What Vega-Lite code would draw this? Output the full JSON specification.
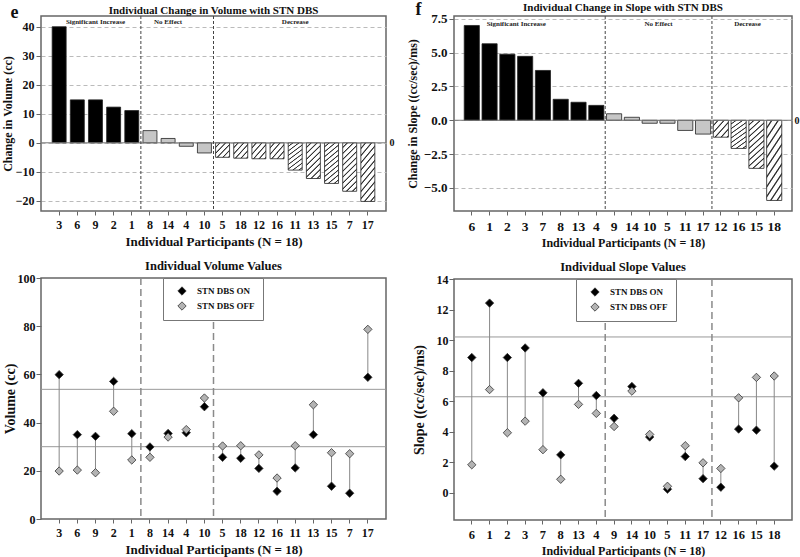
{
  "$schema": "https://vega.github.io/schema/vega-lite/v6.json",
  "padding": {"left": 0, "top": 0, "right": 0, "bottom": 0},
  "datasets": {
    "volChange": [
      {"p": "3", "v": 40.0, "g": "Significant Increase"},
      {"p": "6", "v": 14.8, "g": "Significant Increase"},
      {"p": "9", "v": 14.8, "g": "Significant Increase"},
      {"p": "2", "v": 12.3, "g": "Significant Increase"},
      {"p": "1", "v": 11.1, "g": "Significant Increase"},
      {"p": "8", "v": 4.2, "g": "No Effect"},
      {"p": "14", "v": 1.5, "g": "No Effect"},
      {"p": "4", "v": -1.2, "g": "No Effect"},
      {"p": "10", "v": -3.5, "g": "No Effect"},
      {"p": "5", "v": -5.0, "g": "Decrease"},
      {"p": "18", "v": -5.3, "g": "Decrease"},
      {"p": "12", "v": -5.5, "g": "Decrease"},
      {"p": "16", "v": -5.5, "g": "Decrease"},
      {"p": "11", "v": -9.4, "g": "Decrease"},
      {"p": "13", "v": -12.3, "g": "Decrease"},
      {"p": "15", "v": -14.0, "g": "Decrease"},
      {"p": "7", "v": -16.7, "g": "Decrease"},
      {"p": "17", "v": -20.2, "g": "Decrease"}
    ],
    "slopeChange": [
      {"p": "6", "v": 7.0, "g": "Significant Increase"},
      {"p": "1", "v": 5.65, "g": "Significant Increase"},
      {"p": "2", "v": 4.88, "g": "Significant Increase"},
      {"p": "3", "v": 4.72, "g": "Significant Increase"},
      {"p": "7", "v": 3.68, "g": "Significant Increase"},
      {"p": "8", "v": 1.55, "g": "Significant Increase"},
      {"p": "13", "v": 1.33, "g": "Significant Increase"},
      {"p": "4", "v": 1.1, "g": "Significant Increase"},
      {"p": "9", "v": 0.48, "g": "No Effect"},
      {"p": "14", "v": 0.22, "g": "No Effect"},
      {"p": "10", "v": -0.22, "g": "No Effect"},
      {"p": "5", "v": -0.22, "g": "No Effect"},
      {"p": "11", "v": -0.75, "g": "No Effect"},
      {"p": "17", "v": -1.02, "g": "No Effect"},
      {"p": "12", "v": -1.25, "g": "Decrease"},
      {"p": "16", "v": -2.08, "g": "Decrease"},
      {"p": "15", "v": -3.55, "g": "Decrease"},
      {"p": "18", "v": -5.92, "g": "Decrease"}
    ],
    "vol": [
      {"p": "3", "STN DBS ON": 59.9, "STN DBS OFF": 19.9},
      {"p": "6", "STN DBS ON": 35.0, "STN DBS OFF": 20.3},
      {"p": "9", "STN DBS ON": 34.3, "STN DBS OFF": 19.2},
      {"p": "2", "STN DBS ON": 57.1, "STN DBS OFF": 44.7},
      {"p": "1", "STN DBS ON": 35.4, "STN DBS OFF": 24.5},
      {"p": "8", "STN DBS ON": 29.9, "STN DBS OFF": 25.6},
      {"p": "14", "STN DBS ON": 35.5, "STN DBS OFF": 34.0},
      {"p": "4", "STN DBS ON": 35.8, "STN DBS OFF": 37.1},
      {"p": "10", "STN DBS ON": 46.6, "STN DBS OFF": 50.2},
      {"p": "5", "STN DBS ON": 25.6, "STN DBS OFF": 30.3},
      {"p": "18", "STN DBS ON": 25.2, "STN DBS OFF": 30.4},
      {"p": "12", "STN DBS ON": 21.0, "STN DBS OFF": 26.6},
      {"p": "16", "STN DBS ON": 11.5, "STN DBS OFF": 17.0},
      {"p": "11", "STN DBS ON": 21.2, "STN DBS OFF": 30.4},
      {"p": "13", "STN DBS ON": 35.0, "STN DBS OFF": 47.4},
      {"p": "15", "STN DBS ON": 13.6, "STN DBS OFF": 27.5},
      {"p": "7", "STN DBS ON": 10.7, "STN DBS OFF": 27.1},
      {"p": "17", "STN DBS ON": 58.8, "STN DBS OFF": 78.7}
    ],
    "slope": [
      {"p": "6", "STN DBS ON": 8.85, "STN DBS OFF": 1.82},
      {"p": "1", "STN DBS ON": 12.42, "STN DBS OFF": 6.75},
      {"p": "2", "STN DBS ON": 8.85, "STN DBS OFF": 3.92},
      {"p": "3", "STN DBS ON": 9.48, "STN DBS OFF": 4.68},
      {"p": "7", "STN DBS ON": 6.54, "STN DBS OFF": 2.81},
      {"p": "8", "STN DBS ON": 2.47, "STN DBS OFF": 0.87},
      {"p": "13", "STN DBS ON": 7.16, "STN DBS OFF": 5.78},
      {"p": "4", "STN DBS ON": 6.36, "STN DBS OFF": 5.19},
      {"p": "9", "STN DBS ON": 4.87, "STN DBS OFF": 4.33},
      {"p": "14", "STN DBS ON": 6.95, "STN DBS OFF": 6.65},
      {"p": "10", "STN DBS ON": 3.64, "STN DBS OFF": 3.81},
      {"p": "5", "STN DBS ON": 0.22, "STN DBS OFF": 0.41},
      {"p": "11", "STN DBS ON": 2.36, "STN DBS OFF": 3.07},
      {"p": "17", "STN DBS ON": 0.91, "STN DBS OFF": 1.95},
      {"p": "12", "STN DBS ON": 0.35, "STN DBS OFF": 1.58},
      {"p": "16", "STN DBS ON": 4.16, "STN DBS OFF": 6.21},
      {"p": "15", "STN DBS ON": 4.09, "STN DBS OFF": 7.55},
      {"p": "18", "STN DBS ON": 1.73, "STN DBS OFF": 7.64}
    ]
  },
  "spacing": 10,
  "resolve": {"scale": {"fill": "independent"}, "legend": {"fill": "independent"}},
  "hconcat": [
    {
      "title": {"text": "e", "anchor": "start", "fontSize": 18, "offset": -18, "dx": 10},
      "spacing": 9,
      "resolve": {"scale": {"fill": "independent"}, "legend": {"fill": "independent"}},
      "vconcat": [
        {
          "width": 345,
          "height": 195,
          "title": {"text": "Individual Change in Volume with STN DBS", "fontSize": 11, "offset": 0},
          "resolve": {"axis": {"y": "independent"}},
          "layer": [
            {
              "data": {"name": "volChange"},
              "transform": [{"filter": "datum.g !== 'Decrease'"}],
              "mark": {"type": "bar", "width": {"band": 0.77}, "stroke": "#222", "strokeWidth": 0.8},
              "encoding": {
                "x": {"field": "p", "type": "nominal", "scale": {"domain": ["3","6","9","2","1","8","14","4","10","5","18","12","16","11","13","15","7","17"], "paddingInner": 0, "paddingOuter": 0.5},
                  "axis": {"title": "Individual Participants (N = 18)", "labelAngle": 0, "labelFontSize": 12, "titleFontSize": 13, "tickSize": 4, "labelPadding": 4, "titlePadding": 5}},
                "y": {"field": "v", "type": "quantitative", "scale": {"domain": [-23.5, 43.7], "nice": false, "zero": false},
                  "axis": {"title": "Change in Volume (cc)", "values": [-20,-10,0,10,20,30,40], "grid": true, "gridDash": [4,3], "gridColor": "#bbb", "labelFontSize": 12, "titleFontSize": 12, "titlePadding": 1}},
                "fill": {"condition": {"test": "datum.g === 'Significant Increase'", "value": "#000"}, "value": "#c6c6c6"}
              }
            },
            {
              "data": {"name": "volChange"},
              "transform": [{"filter": "datum.g === 'Decrease' && datum.v > -8"}],
              "mark": {"type": "bar", "width": {"band": 0.77}, "stroke": "#222", "strokeWidth": 0.8,
                "fill": {"gradient": "linear", "x1": 0, "y1": 0, "x2": 1, "y2": 1, "stops": [
                  {"offset": 0, "color": "#fff"}, {"offset": 0.12, "color": "#fff"}, {"offset": 0.15, "color": "#333"}, {"offset": 0.17, "color": "#333"},
                  {"offset": 0.2, "color": "#fff"}, {"offset": 0.32, "color": "#fff"}, {"offset": 0.35, "color": "#333"}, {"offset": 0.37, "color": "#333"},
                  {"offset": 0.4, "color": "#fff"}, {"offset": 0.52, "color": "#fff"}, {"offset": 0.55, "color": "#333"}, {"offset": 0.57, "color": "#333"},
                  {"offset": 0.6, "color": "#fff"}, {"offset": 0.72, "color": "#fff"}, {"offset": 0.75, "color": "#333"}, {"offset": 0.77, "color": "#333"},
                  {"offset": 0.8, "color": "#fff"}, {"offset": 0.92, "color": "#fff"}, {"offset": 0.95, "color": "#333"}, {"offset": 0.97, "color": "#333"},
                  {"offset": 1, "color": "#fff"}]}},
              "encoding": {
                "x": {"field": "p", "type": "nominal", "scale": {"domain": ["3","6","9","2","1","8","14","4","10","5","18","12","16","11","13","15","7","17"], "paddingInner": 0, "paddingOuter": 0.5}},
                "y": {"field": "v", "type": "quantitative", "axis": null}
              }
            },
            {
              "data": {"name": "volChange"},
              "transform": [{"filter": "datum.g === 'Decrease' && datum.v <= -8 && datum.v > -13"}],
              "mark": {"type": "bar", "width": {"band": 0.77}, "stroke": "#222", "strokeWidth": 0.8,
                "fill": {"gradient": "linear", "x1": 0, "y1": 0, "x2": 1, "y2": 2.6, "stops": [
                  {"offset": 0, "color": "#fff"}, {"offset": 0.0333, "color": "#fff"}, {"offset": 0.0417, "color": "#333"}, {"offset": 0.0472, "color": "#333"},
                  {"offset": 0.0556, "color": "#fff"}, {"offset": 0.0889, "color": "#fff"}, {"offset": 0.0972, "color": "#333"}, {"offset": 0.1028, "color": "#333"},
                  {"offset": 0.1111, "color": "#fff"}, {"offset": 0.1444, "color": "#fff"}, {"offset": 0.1528, "color": "#333"}, {"offset": 0.1583, "color": "#333"},
                  {"offset": 0.1667, "color": "#fff"}, {"offset": 0.2, "color": "#fff"}, {"offset": 0.2083, "color": "#333"}, {"offset": 0.2139, "color": "#333"},
                  {"offset": 0.2222, "color": "#fff"}, {"offset": 0.2556, "color": "#fff"}, {"offset": 0.2639, "color": "#333"}, {"offset": 0.2694, "color": "#333"},
                  {"offset": 0.2778, "color": "#fff"}, {"offset": 0.3111, "color": "#fff"}, {"offset": 0.3194, "color": "#333"}, {"offset": 0.325, "color": "#333"},
                  {"offset": 0.3333, "color": "#fff"}, {"offset": 0.3667, "color": "#fff"}, {"offset": 0.375, "color": "#333"}, {"offset": 0.3806, "color": "#333"},
                  {"offset": 0.3889, "color": "#fff"}, {"offset": 0.4222, "color": "#fff"}, {"offset": 0.4306, "color": "#333"}, {"offset": 0.4361, "color": "#333"},
                  {"offset": 0.4444, "color": "#fff"}, {"offset": 0.4778, "color": "#fff"}, {"offset": 0.4861, "color": "#333"}, {"offset": 0.4917, "color": "#333"},
                  {"offset": 0.5, "color": "#fff"}, {"offset": 0.5333, "color": "#fff"}, {"offset": 0.5417, "color": "#333"}, {"offset": 0.5472, "color": "#333"},
                  {"offset": 0.5556, "color": "#fff"}, {"offset": 1, "color": "#fff"}]}},
              "encoding": {
                "x": {"field": "p", "type": "nominal", "scale": {"domain": ["3","6","9","2","1","8","14","4","10","5","18","12","16","11","13","15","7","17"], "paddingInner": 0, "paddingOuter": 0.5}},
                "y": {"field": "v", "type": "quantitative", "axis": null}
              }
            },
            {
              "data": {"name": "volChange"},
              "transform": [{"filter": "datum.g === 'Decrease' && datum.v <= -13"}],
              "mark": {"type": "bar", "width": {"band": 0.77}, "stroke": "#222", "strokeWidth": 0.8,
                "fill": {"gradient": "linear", "x1": 0, "y1": 0, "x2": 1, "y2": 3.5, "stops": [
                  {"offset": 0, "color": "#fff"}, {"offset": 0.0194, "color": "#fff"}, {"offset": 0.0242, "color": "#333"}, {"offset": 0.0275, "color": "#333"},
                  {"offset": 0.0323, "color": "#fff"}, {"offset": 0.0517, "color": "#fff"}, {"offset": 0.0565, "color": "#333"}, {"offset": 0.0598, "color": "#333"},
                  {"offset": 0.0646, "color": "#fff"}, {"offset": 0.084, "color": "#fff"}, {"offset": 0.0888, "color": "#333"}, {"offset": 0.0921, "color": "#333"},
                  {"offset": 0.0969, "color": "#fff"}, {"offset": 0.1163, "color": "#fff"}, {"offset": 0.1211, "color": "#333"}, {"offset": 0.1244, "color": "#333"},
                  {"offset": 0.1292, "color": "#fff"}, {"offset": 0.1486, "color": "#fff"}, {"offset": 0.1534, "color": "#333"}, {"offset": 0.1567, "color": "#333"},
                  {"offset": 0.1615, "color": "#fff"}, {"offset": 0.1809, "color": "#fff"}, {"offset": 0.1857, "color": "#333"}, {"offset": 0.189, "color": "#333"},
                  {"offset": 0.1938, "color": "#fff"}, {"offset": 0.2132, "color": "#fff"}, {"offset": 0.218, "color": "#333"}, {"offset": 0.2213, "color": "#333"},
                  {"offset": 0.2261, "color": "#fff"}, {"offset": 0.2455, "color": "#fff"}, {"offset": 0.2503, "color": "#333"}, {"offset": 0.2536, "color": "#333"},
                  {"offset": 0.2584, "color": "#fff"}, {"offset": 0.2778, "color": "#fff"}, {"offset": 0.2826, "color": "#333"}, {"offset": 0.2859, "color": "#333"},
                  {"offset": 0.2907, "color": "#fff"}, {"offset": 0.3101, "color": "#fff"}, {"offset": 0.3149, "color": "#333"}, {"offset": 0.3182, "color": "#333"},
                  {"offset": 0.323, "color": "#fff"}, {"offset": 0.3424, "color": "#fff"}, {"offset": 0.3472, "color": "#333"}, {"offset": 0.3505, "color": "#333"},
                  {"offset": 0.3553, "color": "#fff"}, {"offset": 1, "color": "#fff"}]}},
              "encoding": {
                "x": {"field": "p", "type": "nominal", "scale": {"domain": ["3","6","9","2","1","8","14","4","10","5","18","12","16","11","13","15","7","17"], "paddingInner": 0, "paddingOuter": 0.5}},
                "y": {"field": "v", "type": "quantitative", "axis": null}
              }
            },
            {
              "data": {"values": [{}]},
              "mark": {"type": "rule", "color": "#777", "strokeWidth": 1},
              "encoding": {
                "y": {"datum": 0, "type": "quantitative", "axis": {"orient": "right", "values": [0], "domain": false, "ticks": false, "grid": false, "title": null, "labelFontSize": 10, "labelPadding": 3, "labelColor": "#111"}}
              }
            },
            {
              "data": {"values": [{"p": "8"}, {"p": "5"}]},
              "mark": {"type": "rule", "color": "#444", "strokeDash": [3, 2], "strokeWidth": 1},
              "encoding": {
                "x": {"field": "p", "type": "nominal", "bandPosition": 0, "scale": {"domain": ["3","6","9","2","1","8","14","4","10","5","18","12","16","11","13","15","7","17"], "paddingInner": 0, "paddingOuter": 0.5}}
              }
            },
            {
              "data": {"values": [{"p": "9", "label": "Significant Increase"}, {"p": "14", "label": "No Effect"}, {"p": "11", "label": "Decrease"}]},
              "mark": {"type": "text", "fontSize": 7, "fontWeight": "bold", "color": "#222", "baseline": "alphabetic"},
              "encoding": {
                "x": {"field": "p", "type": "nominal", "scale": {"domain": ["3","6","9","2","1","8","14","4","10","5","18","12","16","11","13","15","7","17"], "paddingInner": 0, "paddingOuter": 0.5}},
                "y": {"datum": 41.0, "type": "quantitative", "axis": null},
                "text": {"field": "label"}
              }
            }
          ]
        },
        {
          "width": 345,
          "height": 241,
          "title": {"text": "Individual Volume Values", "fontSize": 12.5, "offset": 0, "frame": "group"},
          "layer": [
            {
              "data": {"values": [{"ref": 53.8}, {"ref": 30.0}]},
              "mark": {"type": "rule", "color": "#999", "strokeWidth": 1},
              "encoding": {"y": {"field": "ref", "type": "quantitative", "scale": {"domain": [0, 100], "nice": false},
                "axis": {"title": "Volume (cc)", "values": [0, 20, 40, 60, 80, 100], "labelOverlap": false, "labelFontSize": 12, "titleFontSize": 14, "titlePadding": 0, "labelPadding": 1}}}
            },
            {
              "data": {"values": [{"p": "8"}, {"p": "5"}]},
              "mark": {"type": "rule", "color": "#8a8a8a", "strokeDash": [7, 4], "strokeWidth": 1.5},
              "encoding": {
                "x": {"field": "p", "type": "nominal", "bandPosition": 0, "scale": {"domain": ["3","6","9","2","1","8","14","4","10","5","18","12","16","11","13","15","7","17"], "paddingInner": 0, "paddingOuter": 0.5},
                  "axis": {"title": "Individual Participants (N = 18)", "labelAngle": 0, "labelFontSize": 12, "titleFontSize": 13, "tickSize": 4, "labelPadding": 4, "titlePadding": 5, "bandPosition": 0.5}}
              }
            },
            {
              "data": {"name": "vol"},
              "mark": {"type": "rule", "color": "#888", "strokeWidth": 1},
              "encoding": {
                "x": {"field": "p", "type": "nominal", "scale": {"domain": ["3","6","9","2","1","8","14","4","10","5","18","12","16","11","13","15","7","17"], "paddingInner": 0, "paddingOuter": 0.5}},
                "y": {"field": "STN DBS ON", "type": "quantitative",
                  "axis": {"title": "Volume (cc)", "values": [0, 20, 40, 60, 80, 100], "labelOverlap": false, "labelFontSize": 12, "titleFontSize": 14, "titlePadding": 0, "labelPadding": 1}},
                "y2": {"field": "STN DBS OFF"}
              }
            },
            {
              "data": {"name": "vol"},
              "transform": [{"fold": ["STN DBS ON", "STN DBS OFF"], "as": ["state", "value"]}],
              "mark": {"type": "point", "shape": "diamond", "filled": true, "size": 70, "stroke": "#333", "strokeWidth": 0.8, "opacity": 1},
              "encoding": {
                "x": {"field": "p", "type": "nominal", "scale": {"domain": ["3","6","9","2","1","8","14","4","10","5","18","12","16","11","13","15","7","17"], "paddingInner": 0, "paddingOuter": 0.5}},
                "y": {"field": "value", "type": "quantitative",
                  "axis": {"title": "Volume (cc)", "values": [0, 20, 40, 60, 80, 100], "labelOverlap": false, "labelFontSize": 12, "titleFontSize": 14, "titlePadding": 0, "labelPadding": 1}},
                "fill": {"field": "state", "type": "nominal", "scale": {"domain": ["STN DBS ON", "STN DBS OFF"], "range": ["#000", "#b3b3b3"]},
                  "legend": {"title": null, "orient": "none", "legendX": 122, "legendY": 0, "direction": "vertical", "symbolType": "diamond", "symbolSize": 70, "symbolStrokeColor": "#333", "symbolStrokeWidth": 0.8, "labelFontSize": 9, "labelFontWeight": "bold", "labelColor": "#111", "strokeColor": "#777", "fillColor": "#fff", "padding": 8, "symbolOffset": 6, "labelOffset": 10, "rowPadding": 3}}
              }
            }
          ]
        }
      ]
    },
    {
      "title": {"text": "f", "anchor": "start", "fontSize": 18, "offset": -18, "dx": 10},
      "spacing": 9,
      "resolve": {"scale": {"fill": "independent"}, "legend": {"fill": "independent"}},
      "vconcat": [
        {
          "width": 338,
          "height": 195,
          "title": {"text": "Individual Change in Slope with STN DBS", "fontSize": 11, "offset": 0},
          "resolve": {"axis": {"y": "independent"}},
          "layer": [
            {
              "data": {"name": "slopeChange"},
              "transform": [{"filter": "datum.g !== 'Decrease'"}],
              "mark": {"type": "bar", "width": {"band": 0.85}, "stroke": "#222", "strokeWidth": 0.8},
              "encoding": {
                "x": {"field": "p", "type": "nominal", "scale": {"domain": ["6","1","2","3","7","8","13","4","9","14","10","5","11","17","12","16","15","18"], "paddingInner": 0, "paddingOuter": 0.5},
                  "axis": {"title": "Individual Participants (N = 18)", "labelAngle": 0, "labelFontSize": 13.5, "titleFontSize": 12, "tickSize": 4, "labelPadding": 4, "titlePadding": 5}},
                "y": {"field": "v", "type": "quantitative", "scale": {"domain": [-6.7, 7.7], "nice": false, "zero": false},
                  "axis": {"title": "Change in Slope ((cc/sec)/ms)", "values": [-5, -2.5, 0, 2.5, 5, 7.5], "format": ".1f", "grid": true, "gridDash": [4,3], "gridColor": "#bbb", "labelFontSize": 13, "titleFontSize": 12, "titlePadding": 4}},
                "fill": {"condition": {"test": "datum.g === 'Significant Increase'", "value": "#000"}, "value": "#c6c6c6"}
              }
            },
            {
              "data": {"name": "slopeChange"},
              "transform": [{"filter": "datum.g === 'Decrease' && datum.v > -1.6"}],
              "mark": {"type": "bar", "width": {"band": 0.85}, "stroke": "#222", "strokeWidth": 0.8,
                "fill": {"gradient": "linear", "x1": 0, "y1": 0, "x2": 1, "y2": 1, "stops": [
                  {"offset": 0, "color": "#fff"}, {"offset": 0.12, "color": "#fff"}, {"offset": 0.15, "color": "#333"}, {"offset": 0.17, "color": "#333"},
                  {"offset": 0.2, "color": "#fff"}, {"offset": 0.32, "color": "#fff"}, {"offset": 0.35, "color": "#333"}, {"offset": 0.37, "color": "#333"},
                  {"offset": 0.4, "color": "#fff"}, {"offset": 0.52, "color": "#fff"}, {"offset": 0.55, "color": "#333"}, {"offset": 0.57, "color": "#333"},
                  {"offset": 0.6, "color": "#fff"}, {"offset": 0.72, "color": "#fff"}, {"offset": 0.75, "color": "#333"}, {"offset": 0.77, "color": "#333"},
                  {"offset": 0.8, "color": "#fff"}, {"offset": 0.92, "color": "#fff"}, {"offset": 0.95, "color": "#333"}, {"offset": 0.97, "color": "#333"},
                  {"offset": 1, "color": "#fff"}]}},
              "encoding": {
                "x": {"field": "p", "type": "nominal", "scale": {"domain": ["6","1","2","3","7","8","13","4","9","14","10","5","11","17","12","16","15","18"], "paddingInner": 0, "paddingOuter": 0.5}},
                "y": {"field": "v", "type": "quantitative", "axis": null}
              }
            },
            {
              "data": {"name": "slopeChange"},
              "transform": [{"filter": "datum.g === 'Decrease' && datum.v <= -1.6 && datum.v > -3"}],
              "mark": {"type": "bar", "width": {"band": 0.85}, "stroke": "#222", "strokeWidth": 0.8,
                "fill": {"gradient": "linear", "x1": 0, "y1": 0, "x2": 1, "y2": 2.6, "stops": [
                  {"offset": 0, "color": "#fff"}, {"offset": 0.0333, "color": "#fff"}, {"offset": 0.0417, "color": "#333"}, {"offset": 0.0472, "color": "#333"},
                  {"offset": 0.0556, "color": "#fff"}, {"offset": 0.0889, "color": "#fff"}, {"offset": 0.0972, "color": "#333"}, {"offset": 0.1028, "color": "#333"},
                  {"offset": 0.1111, "color": "#fff"}, {"offset": 0.1444, "color": "#fff"}, {"offset": 0.1528, "color": "#333"}, {"offset": 0.1583, "color": "#333"},
                  {"offset": 0.1667, "color": "#fff"}, {"offset": 0.2, "color": "#fff"}, {"offset": 0.2083, "color": "#333"}, {"offset": 0.2139, "color": "#333"},
                  {"offset": 0.2222, "color": "#fff"}, {"offset": 0.2556, "color": "#fff"}, {"offset": 0.2639, "color": "#333"}, {"offset": 0.2694, "color": "#333"},
                  {"offset": 0.2778, "color": "#fff"}, {"offset": 0.3111, "color": "#fff"}, {"offset": 0.3194, "color": "#333"}, {"offset": 0.325, "color": "#333"},
                  {"offset": 0.3333, "color": "#fff"}, {"offset": 0.3667, "color": "#fff"}, {"offset": 0.375, "color": "#333"}, {"offset": 0.3806, "color": "#333"},
                  {"offset": 0.3889, "color": "#fff"}, {"offset": 0.4222, "color": "#fff"}, {"offset": 0.4306, "color": "#333"}, {"offset": 0.4361, "color": "#333"},
                  {"offset": 0.4444, "color": "#fff"}, {"offset": 0.4778, "color": "#fff"}, {"offset": 0.4861, "color": "#333"}, {"offset": 0.4917, "color": "#333"},
                  {"offset": 0.5, "color": "#fff"}, {"offset": 0.5333, "color": "#fff"}, {"offset": 0.5417, "color": "#333"}, {"offset": 0.5472, "color": "#333"},
                  {"offset": 0.5556, "color": "#fff"}, {"offset": 1, "color": "#fff"}]}},
              "encoding": {
                "x": {"field": "p", "type": "nominal", "scale": {"domain": ["6","1","2","3","7","8","13","4","9","14","10","5","11","17","12","16","15","18"], "paddingInner": 0, "paddingOuter": 0.5}},
                "y": {"field": "v", "type": "quantitative", "axis": null}
              }
            },
            {
              "data": {"name": "slopeChange"},
              "transform": [{"filter": "datum.g === 'Decrease' && datum.v <= -3"}],
              "mark": {"type": "bar", "width": {"band": 0.85}, "stroke": "#222", "strokeWidth": 0.8,
                "fill": {"gradient": "linear", "x1": 0, "y1": 0, "x2": 1, "y2": 3.5, "stops": [
                  {"offset": 0, "color": "#fff"}, {"offset": 0.0194, "color": "#fff"}, {"offset": 0.0242, "color": "#333"}, {"offset": 0.0275, "color": "#333"},
                  {"offset": 0.0323, "color": "#fff"}, {"offset": 0.0517, "color": "#fff"}, {"offset": 0.0565, "color": "#333"}, {"offset": 0.0598, "color": "#333"},
                  {"offset": 0.0646, "color": "#fff"}, {"offset": 0.084, "color": "#fff"}, {"offset": 0.0888, "color": "#333"}, {"offset": 0.0921, "color": "#333"},
                  {"offset": 0.0969, "color": "#fff"}, {"offset": 0.1163, "color": "#fff"}, {"offset": 0.1211, "color": "#333"}, {"offset": 0.1244, "color": "#333"},
                  {"offset": 0.1292, "color": "#fff"}, {"offset": 0.1486, "color": "#fff"}, {"offset": 0.1534, "color": "#333"}, {"offset": 0.1567, "color": "#333"},
                  {"offset": 0.1615, "color": "#fff"}, {"offset": 0.1809, "color": "#fff"}, {"offset": 0.1857, "color": "#333"}, {"offset": 0.189, "color": "#333"},
                  {"offset": 0.1938, "color": "#fff"}, {"offset": 0.2132, "color": "#fff"}, {"offset": 0.218, "color": "#333"}, {"offset": 0.2213, "color": "#333"},
                  {"offset": 0.2261, "color": "#fff"}, {"offset": 0.2455, "color": "#fff"}, {"offset": 0.2503, "color": "#333"}, {"offset": 0.2536, "color": "#333"},
                  {"offset": 0.2584, "color": "#fff"}, {"offset": 0.2778, "color": "#fff"}, {"offset": 0.2826, "color": "#333"}, {"offset": 0.2859, "color": "#333"},
                  {"offset": 0.2907, "color": "#fff"}, {"offset": 0.3101, "color": "#fff"}, {"offset": 0.3149, "color": "#333"}, {"offset": 0.3182, "color": "#333"},
                  {"offset": 0.323, "color": "#fff"}, {"offset": 0.3424, "color": "#fff"}, {"offset": 0.3472, "color": "#333"}, {"offset": 0.3505, "color": "#333"},
                  {"offset": 0.3553, "color": "#fff"}, {"offset": 1, "color": "#fff"}]}},
              "encoding": {
                "x": {"field": "p", "type": "nominal", "scale": {"domain": ["6","1","2","3","7","8","13","4","9","14","10","5","11","17","12","16","15","18"], "paddingInner": 0, "paddingOuter": 0.5}},
                "y": {"field": "v", "type": "quantitative", "axis": null}
              }
            },
            {
              "data": {"values": [{}]},
              "mark": {"type": "rule", "color": "#777", "strokeWidth": 1},
              "encoding": {
                "y": {"datum": 0, "type": "quantitative", "axis": {"orient": "right", "values": [0], "domain": false, "ticks": false, "grid": false, "title": null, "labelFontSize": 10, "labelPadding": 2, "labelColor": "#111"}}
              }
            },
            {
              "data": {"values": [{"p": "9"}, {"p": "12"}]},
              "mark": {"type": "rule", "color": "#444", "strokeDash": [3, 2], "strokeWidth": 1},
              "encoding": {
                "x": {"field": "p", "type": "nominal", "bandPosition": 0, "scale": {"domain": ["6","1","2","3","7","8","13","4","9","14","10","5","11","17","12","16","15","18"], "paddingInner": 0, "paddingOuter": 0.5}}
              }
            },
            {
              "data": {"values": [{"p": "3", "label": "Significant Increase"}, {"p": "5", "label": "No Effect"}, {"p": "15", "label": "Decrease"}]},
              "mark": {"type": "text", "fontSize": 7, "fontWeight": "bold", "color": "#222", "baseline": "alphabetic"},
              "encoding": {
                "x": {"field": "p", "type": "nominal", "bandPosition": 0, "scale": {"domain": ["6","1","2","3","7","8","13","4","9","14","10","5","11","17","12","16","15","18"], "paddingInner": 0, "paddingOuter": 0.5}},
                "y": {"datum": 6.95, "type": "quantitative", "axis": null},
                "text": {"field": "label"}
              }
            }
          ]
        },
        {
          "width": 338,
          "height": 241,
          "title": {"text": "Individual Slope Values", "fontSize": 12.5, "offset": 0, "frame": "group"},
          "layer": [
            {
              "data": {"values": [{"ref": 10.2}, {"ref": 6.28}]},
              "mark": {"type": "rule", "color": "#999", "strokeWidth": 1},
              "encoding": {"y": {"field": "ref", "type": "quantitative", "scale": {"domain": [-1.8, 14], "nice": false, "zero": false},
                "axis": {"title": "Slope ((cc/sec)/ms)", "values": [0, 2, 4, 6, 8, 10, 12, 14], "tickCount": 8, "labelOverlap": false, "labelSeparation": 0, "labelFontSize": 12, "titleFontSize": 14, "titlePadding": 10, "labelPadding": 1}}}
            },
            {
              "data": {"values": [{"p": "9"}, {"p": "12"}]},
              "mark": {"type": "rule", "color": "#8a8a8a", "strokeDash": [7, 4], "strokeWidth": 1.5},
              "encoding": {
                "x": {"field": "p", "type": "nominal", "bandPosition": 0, "scale": {"domain": ["6","1","2","3","7","8","13","4","9","14","10","5","11","17","12","16","15","18"], "paddingInner": 0, "paddingOuter": 0.5},
                  "axis": {"title": "Individual Participants (N = 18)", "labelAngle": 0, "labelFontSize": 12.5, "titleFontSize": 12, "tickSize": 4, "labelPadding": 4, "titlePadding": 5, "bandPosition": 0.5}}
              }
            },
            {
              "data": {"name": "slope"},
              "mark": {"type": "rule", "color": "#888", "strokeWidth": 1},
              "encoding": {
                "x": {"field": "p", "type": "nominal", "scale": {"domain": ["6","1","2","3","7","8","13","4","9","14","10","5","11","17","12","16","15","18"], "paddingInner": 0, "paddingOuter": 0.5}},
                "y": {"field": "STN DBS ON", "type": "quantitative",
                  "axis": {"title": "Slope ((cc/sec)/ms)", "values": [0, 2, 4, 6, 8, 10, 12, 14], "tickCount": 8, "labelOverlap": false, "labelSeparation": 0, "labelFontSize": 12, "titleFontSize": 14, "titlePadding": 10, "labelPadding": 1}},
                "y2": {"field": "STN DBS OFF"}
              }
            },
            {
              "data": {"name": "slope"},
              "transform": [{"fold": ["STN DBS ON", "STN DBS OFF"], "as": ["state", "value"]}],
              "mark": {"type": "point", "shape": "diamond", "filled": true, "size": 70, "stroke": "#333", "strokeWidth": 0.8, "opacity": 1},
              "encoding": {
                "x": {"field": "p", "type": "nominal", "scale": {"domain": ["6","1","2","3","7","8","13","4","9","14","10","5","11","17","12","16","15","18"], "paddingInner": 0, "paddingOuter": 0.5}},
                "y": {"field": "value", "type": "quantitative",
                  "axis": {"title": "Slope ((cc/sec)/ms)", "values": [0, 2, 4, 6, 8, 10, 12, 14], "tickCount": 8, "labelOverlap": false, "labelSeparation": 0, "labelFontSize": 12, "titleFontSize": 14, "titlePadding": 10, "labelPadding": 1}},
                "fill": {"field": "state", "type": "nominal", "scale": {"domain": ["STN DBS ON", "STN DBS OFF"], "range": ["#000", "#b3b3b3"]},
                  "legend": {"title": null, "orient": "none", "legendX": 122, "legendY": 0, "direction": "vertical", "symbolType": "diamond", "symbolSize": 70, "symbolStrokeColor": "#333", "symbolStrokeWidth": 0.8, "labelFontSize": 9, "labelFontWeight": "bold", "labelColor": "#111", "strokeColor": "#777", "fillColor": "#fff", "padding": 8, "symbolOffset": 6, "labelOffset": 10, "rowPadding": 3}}
              }
            }
          ]
        }
      ]
    }
  ],
  "config": {
    "font": "Liberation Serif",
    "view": {"stroke": "#666", "strokeWidth": 1.5},
    "title": {"font": "Liberation Serif", "fontWeight": "bold", "color": "#111"},
    "axis": {"labelFont": "Liberation Serif", "titleFont": "Liberation Serif", "labelFontWeight": "bold", "titleFontWeight": "bold", "labelColor": "#111", "titleColor": "#111", "domain": false, "tickColor": "#666", "tickSize": 5, "labelPadding": 2, "grid": false},
    "legend": {"labelFont": "Liberation Serif"},
    "text": {"font": "Liberation Serif"}
  }
}
